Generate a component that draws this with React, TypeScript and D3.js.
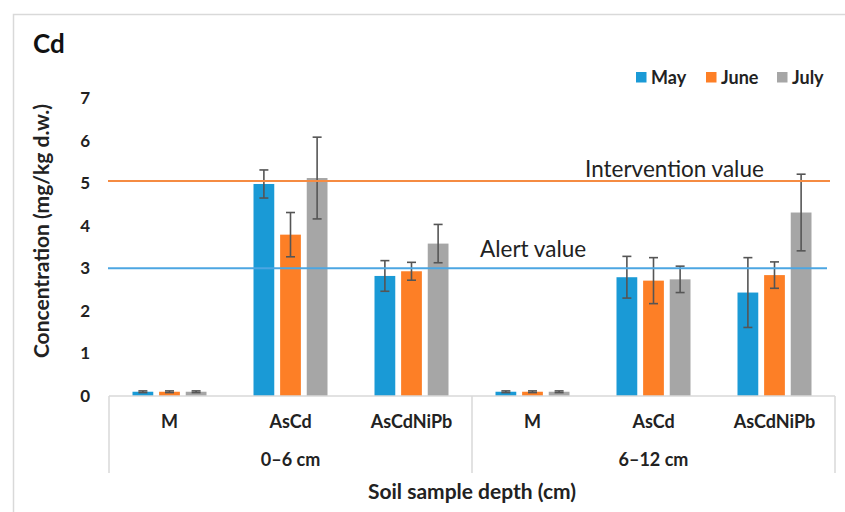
import React from "react";
import * as d3 from "d3";

const depths = ["0–6 cm", "6–12 cm"];
const treatments = ["M", "AsCd", "AsCdNiPb"];
const months = ["May", "June", "July"];
const colors = ["#1a9ad6", "#fd7f26", "#a6a6a6"];

// values per depth × treatment, per month
const mayValues = [0.1, 4.98, 2.82, 0.1, 2.79, 2.43];
const juneValues = [0.1, 3.79, 2.93, 0.1, 2.71, 2.84];
const julyValues = [0.1, 5.12, 3.58, 0.1, 2.74, 4.31];
const mayErr = [0.02, 0.33, 0.36, 0.02, 0.49, 0.82];
const juneErr = [0.02, 0.52, 0.21, 0.02, 0.54, 0.31];
const julyErr = [0.02, 0.96, 0.45, 0.02, 0.31, 0.9];

const yTicks = [0, 1, 2, 3, 4, 5, 6, 7];
const alertValue = 3.0;
const interventionValue = 5.05;

const seriesValues = [mayValues, juneValues, julyValues];
const seriesErr = [mayErr, juneErr, julyErr];

const categories = depths.flatMap((d) => treatments.map((t) => `${d}|${t}`));

export default function App() {
  const W = 845;
  const H = 512;
  const left = 109;
  const right = 835;
  const y = d3.scaleLinear().domain([0, 7]).range([396, 98]);
  const x0 = d3.scaleBand<string>().domain(categories).range([left, right]).padding(0);
  const bw = x0.bandwidth();
  const x1 = d3
    .scaleBand<string>()
    .domain(months)
    .range([bw / 2 - 37, bw / 2 + 37])
    .paddingInner(0.22);
  const depthScale = d3.scaleBand<string>().domain(depths).range([left, right]);

  const font = "Lato, 'Open Sans', sans-serif";
  const capW = 9;

  return (
    <svg
      width={W}
      height={H}
      style={{ position: "absolute", left: 0, top: 0, background: "#fff" }}
      fontFamily={font}
    >
      <rect x={13.5} y={14.5} width={840} height={510} fill="#fff" stroke="#d9d9d9" strokeWidth={1.5} />
      <text x={33} y={53} fontSize={26} fontWeight={700} fill="#111">
        Cd
      </text>

      {/* legend */}
      {months.map((m, i) => {
        const xs = [636, 706, 777][i];
        return (
          <g key={m}>
            <rect x={xs} y={72} width={10.5} height={10.5} fill={colors[i]} />
            <text x={xs + 15} y={83.5} fontSize={18} fontWeight={700} fill="#222">
              {m}
            </text>
          </g>
        );
      })}

      {/* y tick labels */}
      {yTicks.map((t) => (
        <text
          key={t}
          x={90}
          y={y(t)}
          dy="0.35em"
          textAnchor="end"
          fontSize={17}
          fontWeight={700}
          fill="#222"
        >
          {t}
        </text>
      ))}
      <text
        transform={`translate(49,231) rotate(-90)`}
        textAnchor="middle"
        fontSize={21}
        fontWeight={700}
        fill="#222"
      >
        Concentration (mg/kg d.w.)
      </text>

      {/* bars */}
      {categories.map((c, ci) => (
        <g key={c} transform={`translate(${x0(c)},0)`}>
          {months.map((m, si) => {
            const v = seriesValues[si][ci];
            const e = seriesErr[si][ci];
            const bx = x1(m)!;
            const cx = bx + x1.bandwidth() / 2;
            return (
              <g key={m}>
                <rect x={bx} y={y(v)} width={x1.bandwidth()} height={y(0) - y(v)} fill={colors[si]} />
                <g stroke="#555" strokeWidth={1.6}>
                  <line x1={cx} x2={cx} y1={y(v + e)} y2={y(v - e)} />
                  <line x1={cx - capW / 2} x2={cx + capW / 2} y1={y(v + e)} y2={y(v + e)} />
                  <line x1={cx - capW / 2} x2={cx + capW / 2} y1={y(v - e)} y2={y(v - e)} />
                </g>
              </g>
            );
          })}
        </g>
      ))}

      {/* category axis */}
      <line x1={left} x2={right} y1={y(0)} y2={y(0)} stroke="#d9d9d9" strokeWidth={1.5} />
      {[left, depthScale(depths[1])!, right].map((xv, i) => (
        <line key={i} x1={xv} x2={xv} y1={y(0)} y2={473} stroke="#d9d9d9" strokeWidth={1.5} />
      ))}
      {categories.map((c) => (
        <text
          key={c}
          x={x0(c)! + bw / 2}
          y={422}
          dy="0.35em"
          textAnchor="middle"
          fontSize={18}
          fontWeight={700}
          fill="#222"
        >
          {c.split("|")[1]}
        </text>
      ))}
      {depths.map((d) => (
        <text
          key={d}
          x={depthScale(d)! + depthScale.bandwidth() / 2}
          y={460}
          dy="0.35em"
          textAnchor="middle"
          fontSize={18}
          fontWeight={700}
          fill="#222"
        >
          {d}
        </text>
      ))}
      <text x={472} y={492} dy="0.35em" textAnchor="middle" fontSize={21} fontWeight={700} fill="#222">
        Soil sample depth (cm)
      </text>

      {/* threshold lines */}
      <line x1={108} x2={830} y1={y(interventionValue)} y2={y(interventionValue)} stroke="#f58b42" strokeWidth={2} />
      <line x1={108} x2={827} y1={y(alertValue)} y2={y(alertValue)} stroke="#4ca6e2" strokeWidth={2} />
      <text x={585} y={177} fontSize={22.5} fill="#222">
        Intervention value
      </text>
      <text x={480} y={257} fontSize={22.5} fill="#222">
        Alert value
      </text>
    </svg>
  );
}
